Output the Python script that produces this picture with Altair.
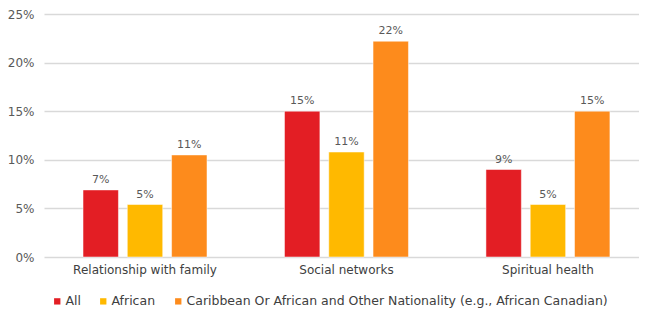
import altair as alt
import pandas as pd

categories = ["Relationship with family", "Social networks", "Spiritual health"]
groups = ["All", "African", "Caribbean Or African and Other Nationality (e.g., African Canadian)"]
values_all = [6.9, 15.0, 9.0]
values_african = [5.4, 10.8, 5.4]
values_caribbean = [10.5, 22.2, 15.0]
labels_all = ["7%", "15%", "9%"]
labels_african = ["5%", "11%", "5%"]
labels_caribbean = ["11%", "22%", "15%"]
colors = ["#E31E24", "#FFB900", "#FD8B1C"]
y_ticks = [0, 5, 10, 15, 20, 25]

rows = []
for vals, labs, g in [(values_all, labels_all, groups[0]),
                      (values_african, labels_african, groups[1]),
                      (values_caribbean, labels_caribbean, groups[2])]:
    for c, v, l in zip(categories, vals, labs):
        rows.append({"category": c, "group": g, "value": v, "label": l})
df = pd.DataFrame(rows)

FONT = "DejaVu Sans"

x = alt.X("category:N", sort=categories, title=None,
          scale=alt.Scale(paddingInner=0.3846, paddingOuter=0.169, align=0.573),
          axis=alt.Axis(labelAngle=0, ticks=False, domain=False, labelPadding=7,
                        labelFontSize=12, labelColor="#404040", labelFont=FONT))
xo = alt.XOffset("group:N", sort=groups, scale=alt.Scale(paddingInner=0.2, paddingOuter=0))
y = alt.Y("value:Q", title=None,
          scale=alt.Scale(domain=[0, 25], nice=False),
          axis=alt.Axis(values=y_ticks, labelExpr="datum.value + '%'", ticks=False, domain=False,
                        labelPadding=10, labelFontSize=12, labelColor="#595959", labelFont=FONT,
                        gridColor="#D9D9D9", gridWidth=1.5))

bars = alt.Chart(df).mark_bar(stroke="white", strokeWidth=0.5).encode(
    x=x, xOffset=xo, y=y,
    color=alt.Color("group:N", sort=groups,
                    scale=alt.Scale(domain=groups, range=colors),
                    legend=alt.Legend(title=None, orient="none", direction="horizontal",
                                      legendX=7, legendY=281, symbolType="square", symbolSize=40,
                                      symbolStrokeWidth=0, labelFontSize=12.5, labelColor="#404040",
                                      labelFont=FONT, columnPadding=16, labelOffset=2,
                                      labelLimit=600)),
)

text = alt.Chart(df).mark_text(dy=-10, fontSize=11, color="#595959", font=FONT).encode(
    x=x, xOffset=xo, y=y, text="label:N"
)

chart = (bars + text).properties(
    width=595, height=243,
    padding={"left": 36, "top": 6, "right": 0, "bottom": 56},
    autosize=alt.AutoSizeParams(type="none"),
).configure_view(stroke=None)

chart.save("out.html", embed_options={"renderer": "svg", "actions": False})
